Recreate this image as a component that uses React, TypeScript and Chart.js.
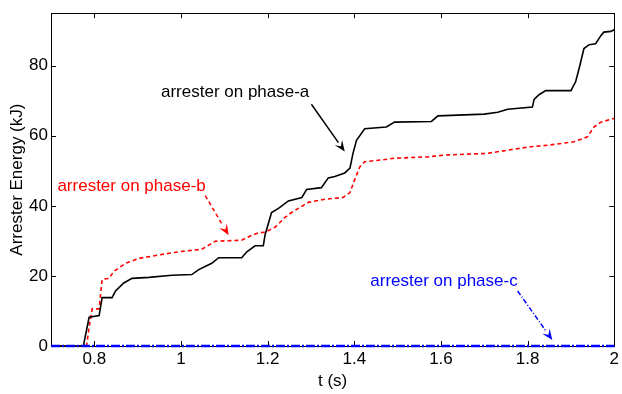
import React, { useEffect, useRef } from "react";
import { Chart, registerables } from "chart.js";

Chart.register(...registerables);

const xTicks = [0.8, 1, 1.2, 1.4, 1.6, 1.8, 2];
const yTicks = [0, 20, 40, 60, 80];

const tA = [0.7, 0.775, 0.776, 0.788, 0.811, 0.818, 0.841, 0.849, 0.868, 0.887, 0.926, 0.979, 1.025, 1.041, 1.071, 1.087, 1.14, 1.152, 1.171, 1.19, 1.194, 1.209, 1.225, 1.248, 1.279, 1.29, 1.324, 1.34, 1.355, 1.378, 1.39, 1.397, 1.405, 1.424, 1.474, 1.493, 1.578, 1.593, 1.7, 1.731, 1.754, 1.811, 1.815, 1.827, 1.842, 1.9, 1.911, 1.919, 1.93, 1.942, 1.957, 1.969, 1.976, 1.992, 2.0];
const eA = [0, 0, 0.8, 8.2, 8.7, 13.8, 13.8, 15.7, 18, 19.3, 19.6, 20.2, 20.4, 21.8, 23.6, 25.2, 25.2, 26.9, 28.6, 28.6, 31.7, 38.1, 39.3, 41.4, 42.4, 44.7, 45.2, 48, 48.4, 49.4, 50.8, 55, 58.7, 62, 62.5, 63.9, 64.1, 65.7, 66.2, 66.7, 67.6, 68.2, 70.4, 71.8, 72.9, 72.9, 75.5, 79.3, 84.9, 86, 86.3, 88.6, 89.6, 89.8, 90.3];

const tB = [0.7, 0.782, 0.788, 0.795, 0.811, 0.818, 0.834, 0.845, 0.872, 0.903, 0.949, 0.995, 1.048, 1.064, 1.079, 1.14, 1.163, 1.179, 1.194, 1.217, 1.24, 1.255, 1.294, 1.332, 1.374, 1.39, 1.401, 1.413, 1.424, 1.462, 1.493, 1.57, 1.608, 1.708, 1.754, 1.807, 1.846, 1.907, 1.938, 1.953, 1.969, 1.995, 2.0];
const eB = [0, 0, 5.4, 10.6, 10.6, 19, 19.3, 21.3, 23.6, 25, 26, 26.9, 27.6, 28.8, 29.9, 30.2, 31.6, 32.3, 32.5, 33.9, 36.7, 38.1, 41, 41.9, 42.4, 43.8, 47.5, 51.2, 52.6, 53.1, 53.6, 54, 54.5, 55, 55.9, 56.9, 57.3, 58.3, 59.7, 62.5, 63.9, 64.8, 65];

const tC = [0.7, 2.0];
const eC = [0, 0];

const FONT = "Arial, 'Liberation Sans', sans-serif";
const FS = 17;

type Note = { text: string; color: string; tx: number; ty: number; ax0: number; ay0: number; ax1: number; ay1: number; dash: number[] };
const notes: Note[] = [
  { text: "arrester on phase-a", color: "#000000", tx: 1.125, ty: 72.4, ax0: 1.301, ay0: 69, ax1: 1.378, ay1: 55.5, dash: [] },
  { text: "arrester on phase-b", color: "#ff0000", tx: 0.886, ty: 45.7, ax0: 1.056, ay0: 42.9, ax1: 1.11, ay1: 31.6, dash: [4, 3] },
  { text: "arrester on phase-c", color: "#0000ff", tx: 1.607, ty: 18.5, ax0: 1.777, ay0: 15.7, ax1: 1.857, ay1: 1.7, dash: [5, 2, 1, 2] },
];

const framePlugin = {
  id: "frame",
  beforeDatasetsDraw(chart: any) {
    const { ctx, chartArea: a, scales } = chart;
    const xs = scales.x, ys = scales.y;
    ctx.save();
    ctx.strokeStyle = "#000";
    ctx.lineWidth = 1;
    ctx.setLineDash([]);
    ctx.strokeRect(Math.round(a.left) + 0.5, Math.round(a.top) + 0.5, Math.round(a.right - a.left), Math.round(a.bottom - a.top));
    const L = 5;
    ctx.beginPath();
    for (const v of xTicks) {
      const px = Math.round(xs.getPixelForValue(v)) + 0.5;
      ctx.moveTo(px, a.bottom); ctx.lineTo(px, a.bottom - L);
      ctx.moveTo(px, a.top); ctx.lineTo(px, a.top + L);
    }
    for (const v of yTicks) {
      const py = Math.round(ys.getPixelForValue(v)) + 0.5;
      ctx.moveTo(a.left, py); ctx.lineTo(a.left + L, py);
      ctx.moveTo(a.right, py); ctx.lineTo(a.right - L, py);
    }
    ctx.stroke();
    ctx.restore();
  },
  afterDatasetsDraw(chart: any) {
    const { ctx, scales } = chart;
    const xs = scales.x, ys = scales.y;
    ctx.save();
    ctx.font = `${FS}px ${FONT}`;
    ctx.textAlign = "center";
    ctx.textBaseline = "middle";
    for (const n of notes) {
      ctx.fillStyle = n.color;
      ctx.fillText(n.text, xs.getPixelForValue(n.tx), ys.getPixelForValue(n.ty));
      const x0 = xs.getPixelForValue(n.ax0), y0 = ys.getPixelForValue(n.ay0);
      const x1 = xs.getPixelForValue(n.ax1), y1 = ys.getPixelForValue(n.ay1);
      const ang = Math.atan2(y1 - y0, x1 - x0);
      const hl = 11, hw = 4.5;
      const bx = x1 - hl * Math.cos(ang), by = y1 - hl * Math.sin(ang);
      ctx.strokeStyle = n.color;
      ctx.lineWidth = 1.5;
      ctx.setLineDash(n.dash);
      ctx.beginPath();
      ctx.moveTo(x0, y0); ctx.lineTo(bx, by);
      ctx.stroke();
      ctx.setLineDash([]);
      ctx.beginPath();
      ctx.moveTo(x1, y1);
      ctx.lineTo(bx + hw * Math.sin(ang), by - hw * Math.cos(ang));
      ctx.lineTo(x1 - (hl * 0.6) * Math.cos(ang), y1 - (hl * 0.6) * Math.sin(ang));
      ctx.lineTo(bx - hw * Math.sin(ang), by + hw * Math.cos(ang));
      ctx.closePath();
      ctx.fill();
    }
    ctx.restore();
  },
};

export default function App() {
  const ref = useRef<HTMLCanvasElement | null>(null);
  useEffect(() => {
    if (!ref.current) return;
    const mk = (t: number[], e: number[]) => t.map((x, i) => ({ x, y: e[i] }));
    const chart = new Chart(ref.current, {
      type: "line",
      data: {
        datasets: [
          { label: "phase-c", data: mk(tC, eC), borderColor: "#0000ff", borderWidth: 2.5, borderDash: [9, 2, 2, 2], pointRadius: 0, fill: false, tension: 0, clip: 4 },
          { label: "phase-a", data: mk(tA, eA), borderColor: "#000000", borderWidth: 1.6, pointRadius: 0, fill: false, tension: 0 },
          { label: "phase-b", data: mk(tB, eB), borderColor: "#ff0000", borderWidth: 1.6, borderDash: [4, 3], pointRadius: 0, fill: false, tension: 0 },
        ],
      },
      options: {
        animation: false,
        responsive: false,
        maintainAspectRatio: false,
        layout: { padding: { top: 7, right: 5, left: 0, bottom: 0 } },
        plugins: { legend: { display: false }, tooltip: { enabled: false } },
        scales: {
          x: {
            type: "linear",
            min: 0.7,
            max: 2,
            afterBuildTicks: (s: any) => { s.ticks = xTicks.map((v) => ({ value: v })); },
            afterFit: (s: any) => { s.height = 48; },
            grid: { display: false, drawTicks: false },
            border: { display: false },
            ticks: { color: "#000", font: { family: FONT, size: FS }, padding: 3, maxRotation: 0, callback: (v: any) => String(v) },
            title: { display: true, text: "t (s)", color: "#000", font: { family: FONT, size: FS }, padding: { top: 0, bottom: 2 } },
          },
          y: {
            type: "linear",
            min: 0,
            max: 95,
            afterBuildTicks: (s: any) => { s.ticks = yTicks.map((v) => ({ value: v })); },
            afterFit: (s: any) => { s.width = 51; },
            grid: { display: false, drawTicks: false },
            border: { display: false },
            ticks: { color: "#000", font: { family: FONT, size: FS }, padding: 3, callback: (v: any) => String(v) },
            title: { display: true, text: "Arrester Energy (kJ)", color: "#000", font: { family: FONT, size: FS }, padding: { top: 7, bottom: 0 } },
          },
        },
      },
      plugins: [framePlugin],
    });
    return () => chart.destroy();
  }, []);
  return (
    <div style={{ position: "fixed", left: 0, top: 0, width: 622, height: 394, background: "#fff" }}>
      <canvas ref={ref} width={622} height={394} style={{ width: 622, height: 394 }} />
    </div>
  );
}
